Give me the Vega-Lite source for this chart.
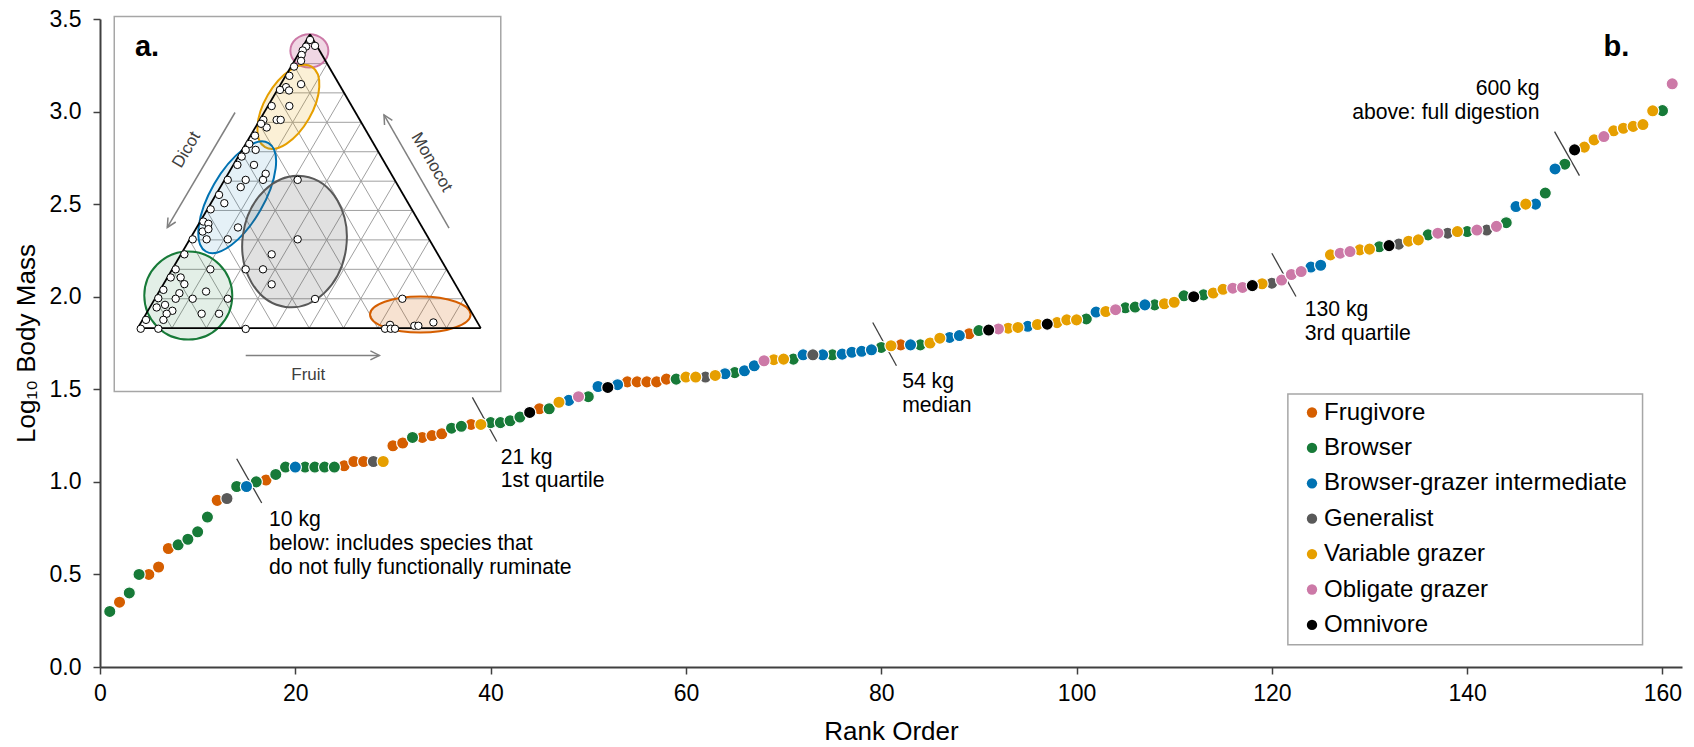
{
  "$schema": "https://vega.github.io/schema/vega-lite/v6.json",
  "width": 1582,
  "height": 648,
  "autosize": "none",
  "padding": {"left": 100, "top": 19, "right": 12, "bottom": 80},
  "background": "white",
  "config": {"font": "Liberation Sans", "view": {"stroke": null}},
  "resolve": {"axis": {"x": "independent", "y": "independent"}},
  "datasets": {
    "pts": [
      {"rank": 2, "mass": 0.35, "diet": "Frugivore"},
      {"rank": 5, "mass": 0.50, "diet": "Frugivore"},
      {"rank": 6, "mass": 0.54, "diet": "Frugivore"},
      {"rank": 7, "mass": 0.64, "diet": "Frugivore"},
      {"rank": 12, "mass": 0.90, "diet": "Frugivore"},
      {"rank": 17, "mass": 1.01, "diet": "Frugivore"},
      {"rank": 25, "mass": 1.087, "diet": "Frugivore"},
      {"rank": 26, "mass": 1.11, "diet": "Frugivore"},
      {"rank": 27, "mass": 1.11, "diet": "Frugivore"},
      {"rank": 30, "mass": 1.195, "diet": "Frugivore"},
      {"rank": 31, "mass": 1.21, "diet": "Frugivore"},
      {"rank": 33, "mass": 1.24, "diet": "Frugivore"},
      {"rank": 34, "mass": 1.25, "diet": "Frugivore"},
      {"rank": 35, "mass": 1.26, "diet": "Frugivore"},
      {"rank": 38, "mass": 1.31, "diet": "Frugivore"},
      {"rank": 45, "mass": 1.395, "diet": "Frugivore"},
      {"rank": 54, "mass": 1.54, "diet": "Frugivore"},
      {"rank": 55, "mass": 1.54, "diet": "Frugivore"},
      {"rank": 56, "mass": 1.54, "diet": "Frugivore"},
      {"rank": 57, "mass": 1.54, "diet": "Frugivore"},
      {"rank": 58, "mass": 1.555, "diet": "Frugivore"},
      {"rank": 82, "mass": 1.74, "diet": "Frugivore"},
      {"rank": 89, "mass": 1.80, "diet": "Frugivore"},
      {"rank": 1, "mass": 0.30, "diet": "Browser"},
      {"rank": 3, "mass": 0.40, "diet": "Browser"},
      {"rank": 4, "mass": 0.50, "diet": "Browser"},
      {"rank": 8, "mass": 0.66, "diet": "Browser"},
      {"rank": 9, "mass": 0.69, "diet": "Browser"},
      {"rank": 10, "mass": 0.73, "diet": "Browser"},
      {"rank": 11, "mass": 0.81, "diet": "Browser"},
      {"rank": 14, "mass": 0.975, "diet": "Browser"},
      {"rank": 16, "mass": 1.00, "diet": "Browser"},
      {"rank": 18, "mass": 1.04, "diet": "Browser"},
      {"rank": 19, "mass": 1.08, "diet": "Browser"},
      {"rank": 21, "mass": 1.08, "diet": "Browser"},
      {"rank": 22, "mass": 1.08, "diet": "Browser"},
      {"rank": 23, "mass": 1.08, "diet": "Browser"},
      {"rank": 24, "mass": 1.08, "diet": "Browser"},
      {"rank": 32, "mass": 1.24, "diet": "Browser"},
      {"rank": 36, "mass": 1.29, "diet": "Browser"},
      {"rank": 37, "mass": 1.30, "diet": "Browser"},
      {"rank": 40, "mass": 1.32, "diet": "Browser"},
      {"rank": 41, "mass": 1.32, "diet": "Browser"},
      {"rank": 42, "mass": 1.33, "diet": "Browser"},
      {"rank": 43, "mass": 1.35, "diet": "Browser"},
      {"rank": 46, "mass": 1.395, "diet": "Browser"},
      {"rank": 50, "mass": 1.46, "diet": "Browser"},
      {"rank": 59, "mass": 1.555, "diet": "Browser"},
      {"rank": 65, "mass": 1.59, "diet": "Browser"},
      {"rank": 71, "mass": 1.663, "diet": "Browser"},
      {"rank": 75, "mass": 1.686, "diet": "Browser"},
      {"rank": 80, "mass": 1.726, "diet": "Browser"},
      {"rank": 84, "mass": 1.74, "diet": "Browser"},
      {"rank": 90, "mass": 1.817, "diet": "Browser"},
      {"rank": 101, "mass": 1.88, "diet": "Browser"},
      {"rank": 105, "mass": 1.94, "diet": "Browser"},
      {"rank": 106, "mass": 1.944, "diet": "Browser"},
      {"rank": 108, "mass": 1.956, "diet": "Browser"},
      {"rank": 111, "mass": 2.005, "diet": "Browser"},
      {"rank": 113, "mass": 2.01, "diet": "Browser"},
      {"rank": 131, "mass": 2.27, "diet": "Browser"},
      {"rank": 136, "mass": 2.334, "diet": "Browser"},
      {"rank": 140, "mass": 2.352, "diet": "Browser"},
      {"rank": 144, "mass": 2.40, "diet": "Browser"},
      {"rank": 148, "mass": 2.56, "diet": "Browser"},
      {"rank": 150, "mass": 2.716, "diet": "Browser"},
      {"rank": 160, "mass": 3.005, "diet": "Browser"},
      {"rank": 15, "mass": 0.975, "diet": "Browser-grazer intermediate"},
      {"rank": 20, "mass": 1.08, "diet": "Browser-grazer intermediate"},
      {"rank": 48, "mass": 1.44, "diet": "Browser-grazer intermediate"},
      {"rank": 51, "mass": 1.515, "diet": "Browser-grazer intermediate"},
      {"rank": 53, "mass": 1.525, "diet": "Browser-grazer intermediate"},
      {"rank": 64, "mass": 1.584, "diet": "Browser-grazer intermediate"},
      {"rank": 66, "mass": 1.60, "diet": "Browser-grazer intermediate"},
      {"rank": 67, "mass": 1.627, "diet": "Browser-grazer intermediate"},
      {"rank": 72, "mass": 1.686, "diet": "Browser-grazer intermediate"},
      {"rank": 74, "mass": 1.686, "diet": "Browser-grazer intermediate"},
      {"rank": 76, "mass": 1.69, "diet": "Browser-grazer intermediate"},
      {"rank": 77, "mass": 1.70, "diet": "Browser-grazer intermediate"},
      {"rank": 78, "mass": 1.705, "diet": "Browser-grazer intermediate"},
      {"rank": 79, "mass": 1.713, "diet": "Browser-grazer intermediate"},
      {"rank": 83, "mass": 1.74, "diet": "Browser-grazer intermediate"},
      {"rank": 87, "mass": 1.78, "diet": "Browser-grazer intermediate"},
      {"rank": 88, "mass": 1.79, "diet": "Browser-grazer intermediate"},
      {"rank": 95, "mass": 1.84, "diet": "Browser-grazer intermediate"},
      {"rank": 102, "mass": 1.917, "diet": "Browser-grazer intermediate"},
      {"rank": 107, "mass": 1.956, "diet": "Browser-grazer intermediate"},
      {"rank": 124, "mass": 2.16, "diet": "Browser-grazer intermediate"},
      {"rank": 125, "mass": 2.17, "diet": "Browser-grazer intermediate"},
      {"rank": 145, "mass": 2.487, "diet": "Browser-grazer intermediate"},
      {"rank": 147, "mass": 2.50, "diet": "Browser-grazer intermediate"},
      {"rank": 149, "mass": 2.69, "diet": "Browser-grazer intermediate"},
      {"rank": 13, "mass": 0.91, "diet": "Generalist"},
      {"rank": 28, "mass": 1.11, "diet": "Generalist"},
      {"rank": 62, "mass": 1.566, "diet": "Generalist"},
      {"rank": 73, "mass": 1.686, "diet": "Generalist"},
      {"rank": 120, "mass": 2.073, "diet": "Generalist"},
      {"rank": 133, "mass": 2.284, "diet": "Generalist"},
      {"rank": 138, "mass": 2.343, "diet": "Generalist"},
      {"rank": 142, "mass": 2.36, "diet": "Generalist"},
      {"rank": 29, "mass": 1.11, "diet": "Variable grazer"},
      {"rank": 39, "mass": 1.31, "diet": "Variable grazer"},
      {"rank": 47, "mass": 1.43, "diet": "Variable grazer"},
      {"rank": 60, "mass": 1.566, "diet": "Variable grazer"},
      {"rank": 61, "mass": 1.566, "diet": "Variable grazer"},
      {"rank": 63, "mass": 1.575, "diet": "Variable grazer"},
      {"rank": 69, "mass": 1.66, "diet": "Variable grazer"},
      {"rank": 70, "mass": 1.663, "diet": "Variable grazer"},
      {"rank": 81, "mass": 1.735, "diet": "Variable grazer"},
      {"rank": 85, "mass": 1.75, "diet": "Variable grazer"},
      {"rank": 86, "mass": 1.776, "diet": "Variable grazer"},
      {"rank": 93, "mass": 1.83, "diet": "Variable grazer"},
      {"rank": 94, "mass": 1.834, "diet": "Variable grazer"},
      {"rank": 96, "mass": 1.85, "diet": "Variable grazer"},
      {"rank": 98, "mass": 1.86, "diet": "Variable grazer"},
      {"rank": 99, "mass": 1.875, "diet": "Variable grazer"},
      {"rank": 100, "mass": 1.875, "diet": "Variable grazer"},
      {"rank": 103, "mass": 1.92, "diet": "Variable grazer"},
      {"rank": 109, "mass": 1.962, "diet": "Variable grazer"},
      {"rank": 110, "mass": 1.97, "diet": "Variable grazer"},
      {"rank": 114, "mass": 2.02, "diet": "Variable grazer"},
      {"rank": 115, "mass": 2.04, "diet": "Variable grazer"},
      {"rank": 119, "mass": 2.07, "diet": "Variable grazer"},
      {"rank": 126, "mass": 2.226, "diet": "Variable grazer"},
      {"rank": 129, "mass": 2.253, "diet": "Variable grazer"},
      {"rank": 130, "mass": 2.257, "diet": "Variable grazer"},
      {"rank": 134, "mass": 2.30, "diet": "Variable grazer"},
      {"rank": 135, "mass": 2.307, "diet": "Variable grazer"},
      {"rank": 139, "mass": 2.352, "diet": "Variable grazer"},
      {"rank": 146, "mass": 2.50, "diet": "Variable grazer"},
      {"rank": 152, "mass": 2.808, "diet": "Variable grazer"},
      {"rank": 153, "mass": 2.847, "diet": "Variable grazer"},
      {"rank": 155, "mass": 2.896, "diet": "Variable grazer"},
      {"rank": 156, "mass": 2.91, "diet": "Variable grazer"},
      {"rank": 157, "mass": 2.92, "diet": "Variable grazer"},
      {"rank": 158, "mass": 2.93, "diet": "Variable grazer"},
      {"rank": 159, "mass": 3.004, "diet": "Variable grazer"},
      {"rank": 49, "mass": 1.46, "diet": "Obligate grazer"},
      {"rank": 68, "mass": 1.654, "diet": "Obligate grazer"},
      {"rank": 92, "mass": 1.826, "diet": "Obligate grazer"},
      {"rank": 104, "mass": 1.93, "diet": "Obligate grazer"},
      {"rank": 116, "mass": 2.046, "diet": "Obligate grazer"},
      {"rank": 117, "mass": 2.05, "diet": "Obligate grazer"},
      {"rank": 121, "mass": 2.09, "diet": "Obligate grazer"},
      {"rank": 122, "mass": 2.12, "diet": "Obligate grazer"},
      {"rank": 123, "mass": 2.136, "diet": "Obligate grazer"},
      {"rank": 127, "mass": 2.235, "diet": "Obligate grazer"},
      {"rank": 128, "mass": 2.244, "diet": "Obligate grazer"},
      {"rank": 137, "mass": 2.343, "diet": "Obligate grazer"},
      {"rank": 141, "mass": 2.36, "diet": "Obligate grazer"},
      {"rank": 143, "mass": 2.38, "diet": "Obligate grazer"},
      {"rank": 154, "mass": 2.865, "diet": "Obligate grazer"},
      {"rank": 161, "mass": 3.15, "diet": "Obligate grazer"},
      {"rank": 44, "mass": 1.375, "diet": "Omnivore"},
      {"rank": 52, "mass": 1.51, "diet": "Omnivore"},
      {"rank": 91, "mass": 1.82, "diet": "Omnivore"},
      {"rank": 97, "mass": 1.852, "diet": "Omnivore"},
      {"rank": 112, "mass": 2.0, "diet": "Omnivore"},
      {"rank": 118, "mass": 2.06, "diet": "Omnivore"},
      {"rank": 132, "mass": 2.276, "diet": "Omnivore"},
      {"rank": 151, "mass": 2.793, "diet": "Omnivore"}
    ],
    "frames": [
      {"x": 1.46, "x2": 41.04, "y": 1.488, "y2": 3.513},
      {"x": 121.64, "x2": 157.96, "y": 0.12, "y2": 1.474}
    ],
    "grid": [
      {"x": 5.626, "y": 1.989, "x2": 37.242, "y2": 1.989},
      {"x": 7.39, "y": 2.148, "x2": 35.494, "y2": 2.148},
      {"x": 9.155, "y": 2.307, "x2": 33.745, "y2": 2.307},
      {"x": 10.92, "y": 2.466, "x2": 31.997, "y2": 2.466},
      {"x": 12.685, "y": 2.624, "x2": 30.249, "y2": 2.624},
      {"x": 14.449, "y": 2.783, "x2": 28.501, "y2": 2.783},
      {"x": 16.214, "y": 2.942, "x2": 26.753, "y2": 2.942},
      {"x": 17.979, "y": 3.101, "x2": 25.004, "y2": 3.101},
      {"x": 19.743, "y": 3.259, "x2": 23.256, "y2": 3.259},
      {"x": 7.374, "y": 1.8305, "x2": 23.256, "y2": 3.259},
      {"x": 10.887, "y": 1.8305, "x2": 25.004, "y2": 3.101},
      {"x": 14.4, "y": 1.8305, "x2": 26.753, "y2": 2.942},
      {"x": 17.913, "y": 1.8305, "x2": 28.501, "y2": 2.783},
      {"x": 21.426, "y": 1.8305, "x2": 30.249, "y2": 2.624},
      {"x": 24.938, "y": 1.8305, "x2": 31.997, "y2": 2.466},
      {"x": 28.451, "y": 1.8305, "x2": 33.745, "y2": 2.307},
      {"x": 31.964, "y": 1.8305, "x2": 35.494, "y2": 2.148},
      {"x": 35.477, "y": 1.8305, "x2": 37.242, "y2": 1.989},
      {"x": 7.374, "y": 1.8305, "x2": 5.626, "y2": 1.989},
      {"x": 10.887, "y": 1.8305, "x2": 7.39, "y2": 2.148},
      {"x": 14.4, "y": 1.8305, "x2": 9.155, "y2": 2.307},
      {"x": 17.913, "y": 1.8305, "x2": 10.92, "y2": 2.466},
      {"x": 21.426, "y": 1.8305, "x2": 12.685, "y2": 2.624},
      {"x": 24.938, "y": 1.8305, "x2": 14.449, "y2": 2.783},
      {"x": 28.451, "y": 1.8305, "x2": 16.214, "y2": 2.942},
      {"x": 31.964, "y": 1.8305, "x2": 17.979, "y2": 3.101},
      {"x": 35.477, "y": 1.8305, "x2": 19.743, "y2": 3.259}
    ],
    "edges": [
      {"x": 3.861, "y": 1.8305, "x2": 21.508, "y2": 3.418},
      {"x": 21.508, "y": 3.418, "x2": 38.99, "y2": 1.8305},
      {"x": 38.99, "y": 1.8305, "x2": 3.861, "y2": 1.8305}
    ],
    "ellipses": [
      {"group": "Obligate grazer", "x": 21.44, "y": 3.328},
      {"group": "Variable grazer", "x": 19.285, "y": 3.025},
      {"group": "Browser-grazer intermediate", "x": 14.05, "y": 2.537},
      {"group": "Generalist", "x": 19.92, "y": 2.298},
      {"group": "Browser", "x": 9.04, "y": 2.006},
      {"group": "Frugivore", "x": 32.8, "y": 1.904}
    ],
    "tpoints": [
      {"x": 21.51, "y": 3.387}, {"x": 22.02, "y": 3.355}, {"x": 21.1, "y": 3.351},
      {"x": 20.76, "y": 3.33}, {"x": 20.65, "y": 3.306}, {"x": 20.59, "y": 3.274},
      {"x": 19.87, "y": 3.243}, {"x": 19.39, "y": 3.193}, {"x": 20.59, "y": 3.148},
      {"x": 19.05, "y": 3.132}, {"x": 18.43, "y": 3.117}, {"x": 19.36, "y": 3.114},
      {"x": 17.58, "y": 3.03}, {"x": 19.39, "y": 3.03}, {"x": 18.09, "y": 2.955},
      {"x": 18.5, "y": 2.955}, {"x": 16.73, "y": 2.955}, {"x": 17.07, "y": 2.914},
      {"x": 16.49, "y": 2.934}, {"x": 15.87, "y": 2.87}, {"x": 15.29, "y": 2.825},
      {"x": 14.92, "y": 2.793}, {"x": 15.94, "y": 2.793}, {"x": 14.51, "y": 2.757},
      {"x": 14.07, "y": 2.712}, {"x": 15.77, "y": 2.712}, {"x": 16.97, "y": 2.664},
      {"x": 13.08, "y": 2.631}, {"x": 14.92, "y": 2.631}, {"x": 16.69, "y": 2.631},
      {"x": 14.41, "y": 2.592}, {"x": 12.19, "y": 2.55}, {"x": 12.73, "y": 2.505},
      {"x": 11.33, "y": 2.472}, {"x": 10.58, "y": 2.406}, {"x": 11.1, "y": 2.394},
      {"x": 10.51, "y": 2.352}, {"x": 11.1, "y": 2.365}, {"x": 14.13, "y": 2.374},
      {"x": 9.49, "y": 2.31}, {"x": 10.92, "y": 2.31}, {"x": 13.08, "y": 2.31},
      {"x": 20.24, "y": 2.631}, {"x": 20.24, "y": 2.31}, {"x": 17.58, "y": 2.229},
      {"x": 14.92, "y": 2.148}, {"x": 16.69, "y": 2.148}, {"x": 17.58, "y": 2.067},
      {"x": 22.02, "y": 1.988}, {"x": 14.92, "y": 1.826}, {"x": 8.64, "y": 2.229},
      {"x": 7.75, "y": 2.148}, {"x": 11.3, "y": 2.148}, {"x": 7.24, "y": 2.104},
      {"x": 8.26, "y": 2.104}, {"x": 8.64, "y": 2.068}, {"x": 6.49, "y": 2.037},
      {"x": 8.13, "y": 2.019}, {"x": 10.86, "y": 2.028}, {"x": 5.97, "y": 1.992},
      {"x": 7.75, "y": 1.989}, {"x": 9.49, "y": 1.989}, {"x": 13.08, "y": 1.989},
      {"x": 6.66, "y": 1.956}, {"x": 5.8, "y": 1.942}, {"x": 7.41, "y": 1.924},
      {"x": 6.83, "y": 1.908}, {"x": 10.41, "y": 1.908}, {"x": 12.19, "y": 1.908},
      {"x": 4.71, "y": 1.875}, {"x": 6.49, "y": 1.875}, {"x": 4.17, "y": 1.827},
      {"x": 5.97, "y": 1.827}, {"x": 30.96, "y": 1.989}, {"x": 29.7, "y": 1.848},
      {"x": 29.19, "y": 1.827}, {"x": 29.77, "y": 1.827}, {"x": 30.21, "y": 1.827},
      {"x": 32.19, "y": 1.843}, {"x": 32.6, "y": 1.843}, {"x": 34.14, "y": 1.861}
    ],
    "arrows": [
      {"name": "Dicot", "x": 13.83, "y": 2.995, "x2": 6.89, "y2": 2.374},
      {"name": "Monocot", "x": 35.74, "y": 2.37, "x2": 29.08, "y2": 2.982},
      {"name": "Fruit", "x": 14.92, "y": 1.683, "x2": 28.61, "y2": 1.683}
    ],
    "insetText": [
      {"name": "Dicot", "x": 8.87, "y": 2.793, "text": "Dicot"},
      {"name": "Monocot", "x": 33.97, "y": 2.727, "text": "Monocot"},
      {"name": "Fruit", "x": 21.33, "y": 1.578, "text": "Fruit"}
    ],
    "ticks": [
      {"x": 14.0, "y": 1.125, "x2": 16.56, "y2": 0.886},
      {"x": 38.13, "y": 1.456, "x2": 40.63, "y2": 1.218},
      {"x": 79.13, "y": 1.861, "x2": 81.56, "y2": 1.627},
      {"x": 120.0, "y": 2.235, "x2": 122.47, "y2": 2.001},
      {"x": 148.95, "y": 2.892, "x2": 151.5, "y2": 2.654}
    ],
    "notesL": [
      {"x": 17.3, "y": 0.795, "text": "10 kg"},
      {"x": 17.3, "y": 0.662, "text": "below: includes species that"},
      {"x": 17.3, "y": 0.533, "text": "do not fully functionally ruminate"},
      {"x": 41.04, "y": 1.128, "text": "21 kg"},
      {"x": 41.04, "y": 1.002, "text": "1st quartile"},
      {"x": 82.14, "y": 1.542, "text": "54 kg"},
      {"x": 82.14, "y": 1.411, "text": "median"},
      {"x": 123.36, "y": 1.929, "text": "130 kg"},
      {"x": 123.36, "y": 1.8, "text": "3rd quartile"}
    ],
    "notesR": [
      {"x": 147.4, "y": 3.121, "text": "600 kg"},
      {"x": 147.4, "y": 2.991, "text": "above: full digestion"}
    ],
    "panels": [
      {"x": 3.58, "y": 3.301, "text": "a."},
      {"x": 153.96, "y": 3.301, "text": "b."}
    ]
  },
  "layer": [
    {
      "data": {"name": "frames"},
      "mark": {"type": "rect", "fill": "white", "stroke": "#a6a6a6", "strokeWidth": 1.5},
      "encoding": {
        "x": {"field": "x", "type": "quantitative", "scale": {"domain": [0, 162], "nice": false, "zero": false}, "axis": null},
        "x2": {"field": "x2"},
        "y": {"field": "y", "type": "quantitative", "scale": {"domain": [0, 3.5], "nice": false, "zero": false}, "axis": null},
        "y2": {"field": "y2"}
      }
    },
    {
      "data": {"name": "grid"},
      "mark": {"type": "rule", "stroke": "#a0a0a0", "strokeWidth": 1},
      "encoding": {
        "x": {"field": "x", "type": "quantitative", "scale": {"domain": [0, 162], "nice": false, "zero": false}, "axis": null},
        "x2": {"field": "x2"},
        "y": {"field": "y", "type": "quantitative", "scale": {"domain": [0, 3.5], "nice": false, "zero": false}, "axis": null},
        "y2": {"field": "y2"}
      }
    },
    {
      "data": {"name": "ellipses"},
      "transform": [{"filter": "datum.group === 'Obligate grazer'"}],
      "mark": {"type": "point", "shape": "M -19 0 A 19 16.7 0 1 0 19 0 A 19 16.7 0 1 0 -19 0 Z", "size": 4, "filled": true, "fill": "#CC79A7", "fillOpacity": 0.3, "stroke": "#CC79A7", "strokeWidth": 2, "opacity": 1},
      "encoding": {
        "x": {"field": "x", "type": "quantitative", "scale": {"domain": [0, 162], "nice": false, "zero": false}, "axis": null},
        "y": {"field": "y", "type": "quantitative", "scale": {"domain": [0, 3.5], "nice": false, "zero": false}, "axis": null}
      }
    },
    {
      "data": {"name": "ellipses"},
      "transform": [{"filter": "datum.group === 'Variable grazer'"}],
      "mark": {"type": "point", "shape": "M -46.5 0 A 46.5 23.7 0 1 0 46.5 0 A 46.5 23.7 0 1 0 -46.5 0 Z", "size": 4, "angle": 300, "filled": true, "fill": "#E69F00", "fillOpacity": 0.16, "stroke": "#E69F00", "strokeWidth": 2, "opacity": 1},
      "encoding": {
        "x": {"field": "x", "type": "quantitative", "scale": {"domain": [0, 162], "nice": false, "zero": false}, "axis": null},
        "y": {"field": "y", "type": "quantitative", "scale": {"domain": [0, 3.5], "nice": false, "zero": false}, "axis": null}
      }
    },
    {
      "data": {"name": "ellipses"},
      "transform": [{"filter": "datum.group === 'Browser-grazer intermediate'"}],
      "mark": {"type": "point", "shape": "M -62.6 0 A 62.6 26.6 0 1 0 62.6 0 A 62.6 26.6 0 1 0 -62.6 0 Z", "size": 4, "angle": 300, "filled": true, "fill": "#0072B2", "fillOpacity": 0.1, "stroke": "#0072B2", "strokeWidth": 2, "opacity": 1},
      "encoding": {
        "x": {"field": "x", "type": "quantitative", "scale": {"domain": [0, 162], "nice": false, "zero": false}, "axis": null},
        "y": {"field": "y", "type": "quantitative", "scale": {"domain": [0, 3.5], "nice": false, "zero": false}, "axis": null}
      }
    },
    {
      "data": {"name": "ellipses"},
      "transform": [{"filter": "datum.group === 'Generalist'"}],
      "mark": {"type": "point", "shape": "M -52 0 A 52 66 0 1 0 52 0 A 52 66 0 1 0 -52 0 Z", "size": 4, "angle": 8, "filled": true, "fill": "#595959", "fillOpacity": 0.18, "stroke": "#595959", "strokeWidth": 2, "opacity": 1},
      "encoding": {
        "x": {"field": "x", "type": "quantitative", "scale": {"domain": [0, 162], "nice": false, "zero": false}, "axis": null},
        "y": {"field": "y", "type": "quantitative", "scale": {"domain": [0, 3.5], "nice": false, "zero": false}, "axis": null}
      }
    },
    {
      "data": {"name": "ellipses"},
      "transform": [{"filter": "datum.group === 'Browser'"}],
      "mark": {"type": "point", "shape": "M -44 0 A 44 44 0 1 0 44 0 A 44 44 0 1 0 -44 0 Z", "size": 4, "filled": true, "fill": "#177A38", "fillOpacity": 0.12, "stroke": "#177A38", "strokeWidth": 2, "opacity": 1},
      "encoding": {
        "x": {"field": "x", "type": "quantitative", "scale": {"domain": [0, 162], "nice": false, "zero": false}, "axis": null},
        "y": {"field": "y", "type": "quantitative", "scale": {"domain": [0, 3.5], "nice": false, "zero": false}, "axis": null}
      }
    },
    {
      "data": {"name": "ellipses"},
      "transform": [{"filter": "datum.group === 'Frugivore'"}],
      "mark": {"type": "point", "shape": "M -50.3 0 A 50.3 18 0 1 0 50.3 0 A 50.3 18 0 1 0 -50.3 0 Z", "size": 4, "filled": true, "fill": "#D55E00", "fillOpacity": 0.18, "stroke": "#D55E00", "strokeWidth": 2, "opacity": 1},
      "encoding": {
        "x": {"field": "x", "type": "quantitative", "scale": {"domain": [0, 162], "nice": false, "zero": false}, "axis": null},
        "y": {"field": "y", "type": "quantitative", "scale": {"domain": [0, 3.5], "nice": false, "zero": false}, "axis": null}
      }
    },
    {
      "data": {"name": "edges"},
      "mark": {"type": "rule", "stroke": "#000000", "strokeWidth": 1.8},
      "encoding": {
        "x": {"field": "x", "type": "quantitative", "scale": {"domain": [0, 162], "nice": false, "zero": false}, "axis": null},
        "x2": {"field": "x2"},
        "y": {"field": "y", "type": "quantitative", "scale": {"domain": [0, 3.5], "nice": false, "zero": false}, "axis": null},
        "y2": {"field": "y2"}
      }
    },
    {
      "data": {"name": "arrows"},
      "mark": {"type": "rule", "stroke": "#808080", "strokeWidth": 1.5},
      "encoding": {
        "x": {"field": "x", "type": "quantitative", "scale": {"domain": [0, 162], "nice": false, "zero": false}, "axis": null},
        "x2": {"field": "x2"},
        "y": {"field": "y", "type": "quantitative", "scale": {"domain": [0, 3.5], "nice": false, "zero": false}, "axis": null},
        "y2": {"field": "y2"}
      }
    },
    {
      "data": {"name": "arrows"},
      "transform": [{"filter": "datum.name === 'Dicot'"}],
      "mark": {"type": "point", "shape": "M -9 -4.5 L 0 0 L -9 4.5", "size": 4, "angle": 120.5, "filled": false, "stroke": "#808080", "strokeWidth": 1.5, "opacity": 1},
      "encoding": {
        "x": {"field": "x2", "type": "quantitative", "scale": {"domain": [0, 162], "nice": false, "zero": false}, "axis": null},
        "y": {"field": "y2", "type": "quantitative", "scale": {"domain": [0, 3.5], "nice": false, "zero": false}, "axis": null}
      }
    },
    {
      "data": {"name": "arrows"},
      "transform": [{"filter": "datum.name === 'Monocot'"}],
      "mark": {"type": "point", "shape": "M -9 -4.5 L 0 0 L -9 4.5", "size": 4, "angle": 240.2, "filled": false, "stroke": "#808080", "strokeWidth": 1.5, "opacity": 1},
      "encoding": {
        "x": {"field": "x2", "type": "quantitative", "scale": {"domain": [0, 162], "nice": false, "zero": false}, "axis": null},
        "y": {"field": "y2", "type": "quantitative", "scale": {"domain": [0, 3.5], "nice": false, "zero": false}, "axis": null}
      }
    },
    {
      "data": {"name": "arrows"},
      "transform": [{"filter": "datum.name === 'Fruit'"}],
      "mark": {"type": "point", "shape": "M -9 -4.5 L 0 0 L -9 4.5", "size": 4, "angle": 0, "filled": false, "stroke": "#808080", "strokeWidth": 1.5, "opacity": 1},
      "encoding": {
        "x": {"field": "x2", "type": "quantitative", "scale": {"domain": [0, 162], "nice": false, "zero": false}, "axis": null},
        "y": {"field": "y2", "type": "quantitative", "scale": {"domain": [0, 3.5], "nice": false, "zero": false}, "axis": null}
      }
    },
    {
      "data": {"name": "tpoints"},
      "mark": {"type": "point", "filled": true, "fill": "white", "stroke": "#000000", "strokeWidth": 1, "size": 55, "opacity": 1},
      "encoding": {
        "x": {"field": "x", "type": "quantitative", "scale": {"domain": [0, 162], "nice": false, "zero": false}, "axis": null},
        "y": {"field": "y", "type": "quantitative", "scale": {"domain": [0, 3.5], "nice": false, "zero": false}, "axis": null}
      }
    },
    {
      "data": {"name": "insetText"},
      "transform": [{"filter": "datum.name === 'Dicot'"}],
      "mark": {"type": "text", "fontSize": 17, "color": "#404040", "align": "center", "baseline": "middle", "angle": 300.5},
      "encoding": {
        "x": {"field": "x", "type": "quantitative", "scale": {"domain": [0, 162], "nice": false, "zero": false}, "axis": null},
        "y": {"field": "y", "type": "quantitative", "scale": {"domain": [0, 3.5], "nice": false, "zero": false}, "axis": null},
        "text": {"field": "text"}
      }
    },
    {
      "data": {"name": "insetText"},
      "transform": [{"filter": "datum.name === 'Monocot'"}],
      "mark": {"type": "text", "fontSize": 17, "color": "#404040", "align": "center", "baseline": "middle", "angle": 60},
      "encoding": {
        "x": {"field": "x", "type": "quantitative", "scale": {"domain": [0, 162], "nice": false, "zero": false}, "axis": null},
        "y": {"field": "y", "type": "quantitative", "scale": {"domain": [0, 3.5], "nice": false, "zero": false}, "axis": null},
        "text": {"field": "text"}
      }
    },
    {
      "data": {"name": "insetText"},
      "transform": [{"filter": "datum.name === 'Fruit'"}],
      "mark": {"type": "text", "fontSize": 17, "color": "#404040", "align": "center", "baseline": "middle"},
      "encoding": {
        "x": {"field": "x", "type": "quantitative", "scale": {"domain": [0, 162], "nice": false, "zero": false}, "axis": null},
        "y": {"field": "y", "type": "quantitative", "scale": {"domain": [0, 3.5], "nice": false, "zero": false}, "axis": null},
        "text": {"field": "text"}
      }
    },
    {
      "data": {"name": "ticks"},
      "mark": {"type": "rule", "stroke": "#404040", "strokeWidth": 1.3},
      "encoding": {
        "x": {"field": "x", "type": "quantitative", "scale": {"domain": [0, 162], "nice": false, "zero": false}, "axis": null},
        "x2": {"field": "x2"},
        "y": {"field": "y", "type": "quantitative", "scale": {"domain": [0, 3.5], "nice": false, "zero": false}, "axis": null},
        "y2": {"field": "y2"}
      }
    },
    {
      "data": {"name": "notesL"},
      "mark": {"type": "text", "fontSize": 21.2, "color": "#000000", "align": "left", "baseline": "middle"},
      "encoding": {
        "x": {"field": "x", "type": "quantitative", "scale": {"domain": [0, 162], "nice": false, "zero": false}, "axis": null},
        "y": {"field": "y", "type": "quantitative", "scale": {"domain": [0, 3.5], "nice": false, "zero": false}, "axis": null},
        "text": {"field": "text"}
      }
    },
    {
      "data": {"name": "notesR"},
      "mark": {"type": "text", "fontSize": 21.2, "color": "#000000", "align": "right", "baseline": "middle"},
      "encoding": {
        "x": {"field": "x", "type": "quantitative", "scale": {"domain": [0, 162], "nice": false, "zero": false}, "axis": null},
        "y": {"field": "y", "type": "quantitative", "scale": {"domain": [0, 3.5], "nice": false, "zero": false}, "axis": null},
        "text": {"field": "text"}
      }
    },
    {
      "data": {"name": "panels"},
      "mark": {"type": "text", "fontSize": 29, "fontWeight": "bold", "color": "#000000", "align": "left", "baseline": "alphabetic"},
      "encoding": {
        "x": {"field": "x", "type": "quantitative", "scale": {"domain": [0, 162], "nice": false, "zero": false}, "axis": null},
        "y": {"field": "y", "type": "quantitative", "scale": {"domain": [0, 3.5], "nice": false, "zero": false}, "axis": null},
        "text": {"field": "text"}
      }
    },
    {
      "data": {"name": "pts"},
      "mark": {"type": "point", "filled": true, "size": 150, "stroke": "white", "strokeWidth": 1.2, "opacity": 1},
      "encoding": {
        "x": {
          "field": "rank", "type": "quantitative",
          "scale": {"domain": [0, 162], "nice": false, "zero": false},
          "axis": {
            "title": "Rank Order", "values": [0, 20, 40, 60, 80, 100, 120, 140, 160],
            "grid": false, "domainColor": "#404040", "domainWidth": 2,
            "tickColor": "#404040", "tickWidth": 1.5, "tickSize": 7,
            "labelFontSize": 23, "labelColor": "#000000", "labelPadding": 8, "labelFlush": false,
            "titleFontSize": 26, "titleFontWeight": "normal", "titleColor": "#000000", "titlePadding": 13
          }
        },
        "y": {
          "field": "mass", "type": "quantitative",
          "scale": {"domain": [0, 3.5], "nice": false, "zero": false},
          "axis": {
            "title": "Log₁₀ Body Mass", "values": [0, 0.5, 1, 1.5, 2, 2.5, 3, 3.5], "format": ".1f",
            "grid": false, "domainColor": "#404040", "domainWidth": 2,
            "tickColor": "#404040", "tickWidth": 1.5, "tickSize": 7,
            "labelFontSize": 23, "labelColor": "#000000", "labelPadding": 12, "labelFlush": false,
            "titleFontSize": 26, "titleFontWeight": "normal", "titleColor": "#000000", "titlePadding": 10
          }
        },
        "fill": {
          "field": "diet", "type": "nominal",
          "scale": {
            "domain": ["Frugivore", "Browser", "Browser-grazer intermediate", "Generalist", "Variable grazer", "Obligate grazer", "Omnivore"],
            "range": ["#D55E00", "#177A38", "#0072B2", "#595959", "#E69F00", "#CC79A7", "#000000"]
          },
          "legend": {
            "title": null, "orient": "none", "legendX": 1200, "legendY": 381.5,
            "labelFontSize": 24, "labelColor": "#000000", "labelLimit": 400,
            "symbolType": "circle", "symbolSize": 107, "symbolStrokeWidth": 0, "symbolOpacity": 1,
            "rowPadding": 11.4, "labelOffset": 0, "padding": 0
          }
        }
      }
    }
  ]
}
